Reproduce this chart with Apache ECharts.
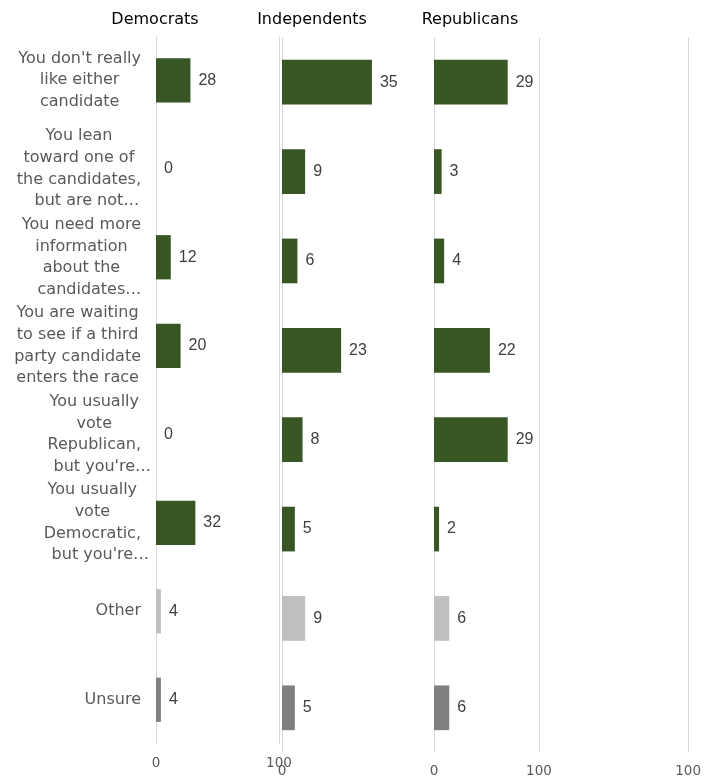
<!DOCTYPE html>
<html><head><meta charset="utf-8">
<script src="https://cdn.jsdelivr.net/npm/echarts@6/dist/echarts.min.js"></script>
<style>html,body{margin:0;padding:0;background:#fff}#c{width:704px;height:780px}</style>
</head><body><div id="c"></div>
<script>
const categories = [
  "You don't really\nlike either\ncandidate",
  "You lean\ntoward one of\nthe candidates,\nbut are not\u2026",
  "You need more\ninformation\nabout the\ncandidates\u2026",
  "You are waiting\nto see if a third\nparty candidate\nenters the race",
  "You usually\nvote\nRepublican,\nbut you're\u2026",
  "You usually\nvote\nDemocratic,\nbut you're\u2026",
  "Other",
  "Unsure"
];
const groups = ["Democrats", "Independents", "Republicans"];
const democrats = [28, 0, 12, 20, 0, 32, 4, 4];
const independents = [35, 9, 6, 23, 8, 5, 9, 5];
const republicans = [29, 3, 4, 22, 29, 2, 6, 6];
const xMin = 0, xMax = 100, xInterval = 100;

const FONT_W = "'DejaVu Sans', sans-serif";
const FONT_A = "'Liberation Sans', Arial, sans-serif";
const seriesData = [democrats, independents, republicans];
const grids = [
  {left: 156, top: 36, width: 123, height: 708},
  {left: 282, top: 37.5, width: 257, height: 715},
  {left: 434, top: 37.5, width: 257, height: 715}
];
const titleX = [155, 312, 470];

function barColor(p) {
  if (p.dataIndex === 6) return '#bfbfbf';
  if (p.dataIndex === 7) return '#7f7f7f';
  return '#375623';
}

function catLabel(v) {
  return v.split('\n').map(l => {
    if (l.endsWith('\u2026')) {
      return '{c|' + l.slice(0, -1) + '}{e|\u2026}';
    }
    return '{c|' + l + '}';
  }).join('\n');
}

const labelText = {fontSize: 16, lineHeight: 21.7, color: '#595959', fontFamily: FONT_W};

const option = {
  animation: false,
  backgroundColor: '#ffffff',
  textStyle: {fontFamily: FONT_W},
  title: groups.map((g, i) => ({
    text: g, left: titleX[i], top: 12, textAlign: 'center', padding: 0,
    textStyle: {fontFamily: FONT_W, fontSize: 16, fontWeight: 'normal', color: '#000000'}
  })),
  grid: grids,
  xAxis: grids.map((g, i) => ({
    gridIndex: i, type: 'value', min: xMin, max: xMax, interval: xInterval,
    axisLine: {show: false}, axisTick: {show: false},
    splitLine: {show: true, lineStyle: {color: '#d9d9d9', width: 1}},
    axisLabel: {color: '#595959', fontSize: 13.5, fontFamily: FONT_W, margin: 12}
  })),
  yAxis: grids.map((g, i) => ({
    gridIndex: i, type: 'category', data: categories, inverse: true,
    axisLine: {show: false}, axisTick: {show: false},
    axisLabel: i === 0 ? {
      show: true, margin: 15, align: 'right',
      formatter: catLabel,
      rich: {
        c: Object.assign({align: 'center'}, labelText),
        e: Object.assign({align: 'center', width: -16, padding: [0, 0, 0, 16]}, labelText)
      }
    } : {show: false}
  })),
  series: seriesData.map((d, i) => ({
    type: 'bar', xAxisIndex: i, yAxisIndex: i, data: d,
    barCategoryGap: '50%',
    itemStyle: {color: barColor},
    label: {show: true, position: 'right', distance: 8, color: '#404040', fontSize: 16, fontFamily: FONT_A}
  }))
};
const chart = echarts.init(document.getElementById('c'), null, {renderer: 'canvas'});
chart.setOption(option);
</script></body></html>
